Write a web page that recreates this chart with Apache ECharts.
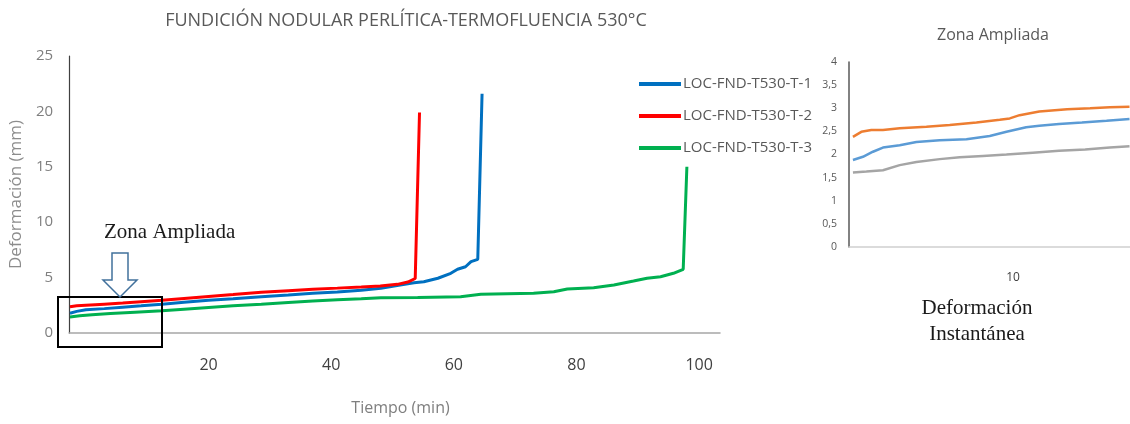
<!DOCTYPE html>
<html><head><meta charset="utf-8">
<script src="https://cdn.jsdelivr.net/npm/echarts@6/dist/echarts.min.js"></script>
<style>html,body{margin:0;padding:0;background:#fff}#c{width:1130px;height:424px}</style>
</head><body><div id="c"></div>
<script>
// ---- Main chart data: [tiempo (min), deformación (mm)] ----
const seriesNames = ['LOC-FND-T530-T-1', 'LOC-FND-T530-T-2', 'LOC-FND-T530-T-3'];
const t1 = [[-2.6,1.78],[-1.5,1.95],[0,2.1],[3,2.2],[6,2.33],[9,2.45],[12.4,2.6],[16,2.78],[20,2.95],[24,3.1],[28.6,3.28],[33,3.43],[37,3.58],[41,3.7],[44.9,3.85],[48.1,4.03],[51,4.3],[53.5,4.54],[55.1,4.63],[57.4,4.94],[59.5,5.39],[60.6,5.75],[61.9,5.98],[62.8,6.44],[63.9,6.65],[64.6,21.6]];
const t2 = [[-2.6,2.37],[-1.5,2.45],[0,2.5],[3,2.6],[6,2.7],[9,2.82],[12.4,2.95],[16,3.12],[20,3.3],[24,3.47],[28.6,3.68],[33,3.82],[37,3.95],[41,4.05],[44.9,4.15],[48,4.25],[50.8,4.39],[52.5,4.6],[53.7,4.92],[54.4,19.9]];
const t3 = [[-2.6,1.45],[-1,1.55],[1,1.65],[4,1.75],[8,1.88],[12.4,2.01],[16,2.15],[20,2.3],[24,2.45],[28.6,2.59],[33,2.75],[37,2.88],[41,3.0],[44.9,3.1],[48.1,3.19],[54.1,3.2],[61.1,3.28],[64.4,3.5],[73,3.58],[76.3,3.73],[78.5,3.97],[82.8,4.09],[86.1,4.33],[89.3,4.69],[91.5,4.94],[93.7,5.08],[95.8,5.39],[97.4,5.75],[98.0,15.0]];
const xTicks = [20, 40, 60, 80, 100];

// ---- Inset "Zona Ampliada" data ----
const zoomT2 = [[0.24,2.38],[0.75,2.49],[1.36,2.53],[2.07,2.53],[3.09,2.57],[4.72,2.6],[6.14,2.64],[7.77,2.69],[9.19,2.75],[9.8,2.78],[10.4,2.85],[11.6,2.93],[13.3,2.98],[14.7,3.0],[15.9,3.02],[17.1,3.03]];
const zoomT1 = [[0.24,1.88],[0.85,1.95],[1.46,2.06],[2.07,2.15],[3.09,2.2],[4.11,2.27],[5.53,2.31],[7.16,2.33],[8.58,2.4],[9.6,2.49],[10.8,2.59],[11.6,2.62],[12.8,2.66],[14.2,2.69],[15.7,2.73],[17.1,2.77]];
const zoomT3 = [[0.24,1.61],[1.06,1.63],[2.07,1.66],[3.09,1.77],[4.11,1.84],[5.53,1.9],[6.75,1.94],[8.17,1.97],[9.6,2.0],[11.2,2.04],[12.8,2.08],[14.4,2.11],[15.9,2.15],[17.1,2.18]];
const zoomXTicks = [10];

const FONT = 'Open Sans';
const chart = echarts.init(document.getElementById('c'), null, {renderer: 'canvas'});
chart.setOption({
  animation: false,
  backgroundColor: '#fff',
  title: [
    {text: 'FUNDICIÓN NODULAR PERLÍTICA-TERMOFLUENCIA 530°C', left: 401, top: 7, textAlign: 'center',
     textStyle: {fontFamily: FONT, fontSize: 18, fontWeight: 'normal', color: '#595959'}},
    {text: 'Zona Ampliada', left: 988, top: 22, textAlign: 'center',
     textStyle: {fontFamily: FONT, fontSize: 16, fontWeight: 'normal', color: '#595959'}}
  ],
  legend: {
    data: seriesNames, orient: 'vertical', left: 634, top: 70,
    icon: 'rect', itemWidth: 42, itemHeight: 4, itemGap: 14,
    textStyle: {fontFamily: FONT, fontSize: 15, color: '#595959', lineHeight: 18, padding: [0,0,0,-3]}
  },
  grid: [
    {left: 67, top: 56, width: 653, height: 277},
    {left: 849, top: 62, width: 281, height: 185}
  ],
  xAxis: [
    {type: 'value', gridIndex: 0, min: -2.75, max: 103.4,
     name: 'Tiempo (min)', nameLocation: 'middle', nameGap: 67,
     nameTextStyle: {fontFamily: FONT, fontSize: 16, color: '#7F7F7F', padding: [0,0,0,12]},
     axisLine: {show: true, onZero: false, lineStyle: {color: '#A6A6A6', width: 1.5}},
     axisTick: {show: false}, splitLine: {show: false},
     axisLabel: {customValues: xTicks, margin: 24, fontFamily: FONT, fontSize: 16, color: '#404040'}},
    {type: 'value', gridIndex: 1, min: 0, max: 17.13,
     axisLine: {show: true, onZero: false, lineStyle: {color: '#D0D0D0', width: 1.5}},
     axisTick: {show: false}, splitLine: {show: false},
     axisLabel: {customValues: zoomXTicks, margin: 25, fontFamily: FONT, fontSize: 12, color: '#404040'}}
  ],
  yAxis: [
    {type: 'value', gridIndex: 0, min: 0, max: 25, interval: 5,
     name: 'Deformación (mm)', nameLocation: 'middle', nameGap: 40,
     nameTextStyle: {fontFamily: FONT, fontSize: 17, color: '#8C8C8C'},
     axisLine: {show: true, onZero: false, lineStyle: {color: '#404040', width: 1.2}},
     axisTick: {show: false}, splitLine: {show: false},
     axisLabel: {margin: 16, fontFamily: FONT, fontSize: 15, color: '#7F7F7F'}},
    {type: 'value', gridIndex: 1, min: 0, max: 4, interval: 0.5,
     axisLine: {show: true, onZero: false, lineStyle: {color: '#595959', width: 1.5}},
     axisTick: {show: false}, splitLine: {show: false},
     axisLabel: {margin: 12, fontFamily: FONT, fontSize: 10.5, color: '#595959',
       formatter: v => String(v).replace('.', ',')}}
  ],
  series: [
    {name: seriesNames[0], type: 'line', xAxisIndex: 0, yAxisIndex: 0, data: t1, showSymbol: false, symbol: 'none',
     lineStyle: {color: '#0070C0', width: 3}, itemStyle: {color: '#0070C0'}, z: 3},
    {name: seriesNames[1], type: 'line', xAxisIndex: 0, yAxisIndex: 0, data: t2, showSymbol: false, symbol: 'none',
     lineStyle: {color: '#FF0000', width: 3}, itemStyle: {color: '#FF0000'}, z: 4},
    {name: seriesNames[2], type: 'line', xAxisIndex: 0, yAxisIndex: 0, data: t3, showSymbol: false, symbol: 'none',
     lineStyle: {color: '#00B050', width: 3}, itemStyle: {color: '#00B050'}, z: 2},
    {name: 'Ampliada T-2', type: 'line', xAxisIndex: 1, yAxisIndex: 1, data: zoomT2, showSymbol: false, symbol: 'none',
     lineStyle: {color: '#ED7D31', width: 2.5}},
    {name: 'Ampliada T-1', type: 'line', xAxisIndex: 1, yAxisIndex: 1, data: zoomT1, showSymbol: false, symbol: 'none',
     lineStyle: {color: '#5B9BD5', width: 2.5}},
    {name: 'Ampliada T-3', type: 'line', xAxisIndex: 1, yAxisIndex: 1, data: zoomT3, showSymbol: false, symbol: 'none',
     lineStyle: {color: '#A5A5A5', width: 2.5}}
  ],
  graphic: [
    {type: 'rect', shape: {x: 58, y: 297, width: 104, height: 50}, z: 10,
     style: {fill: 'none', stroke: '#000', lineWidth: 2}},
    {type: 'polygon', z: 10,
     shape: {points: [[112,253],[128,253],[128,280],[137,280],[120,297],[103,280],[112,280]]},
     style: {fill: '#fff', stroke: '#41719C', lineWidth: 1.5}},
    {type: 'text', left: 104, top: 222, z: 10,
     style: {text: 'Zona Ampliada', fontFamily: 'Liberation Serif', fontSize: 21, fill: '#1a1a1a'}},
    {type: 'text', z: 10,
     style: {x: 977, y: 295, text: 'Deformación\nInstantánea', fontFamily: 'Liberation Serif', fontSize: 21, lineHeight: 26,
             align: 'center', textAlign: 'center', fill: '#1a1a1a'}}
  ]
});
</script></body></html>
